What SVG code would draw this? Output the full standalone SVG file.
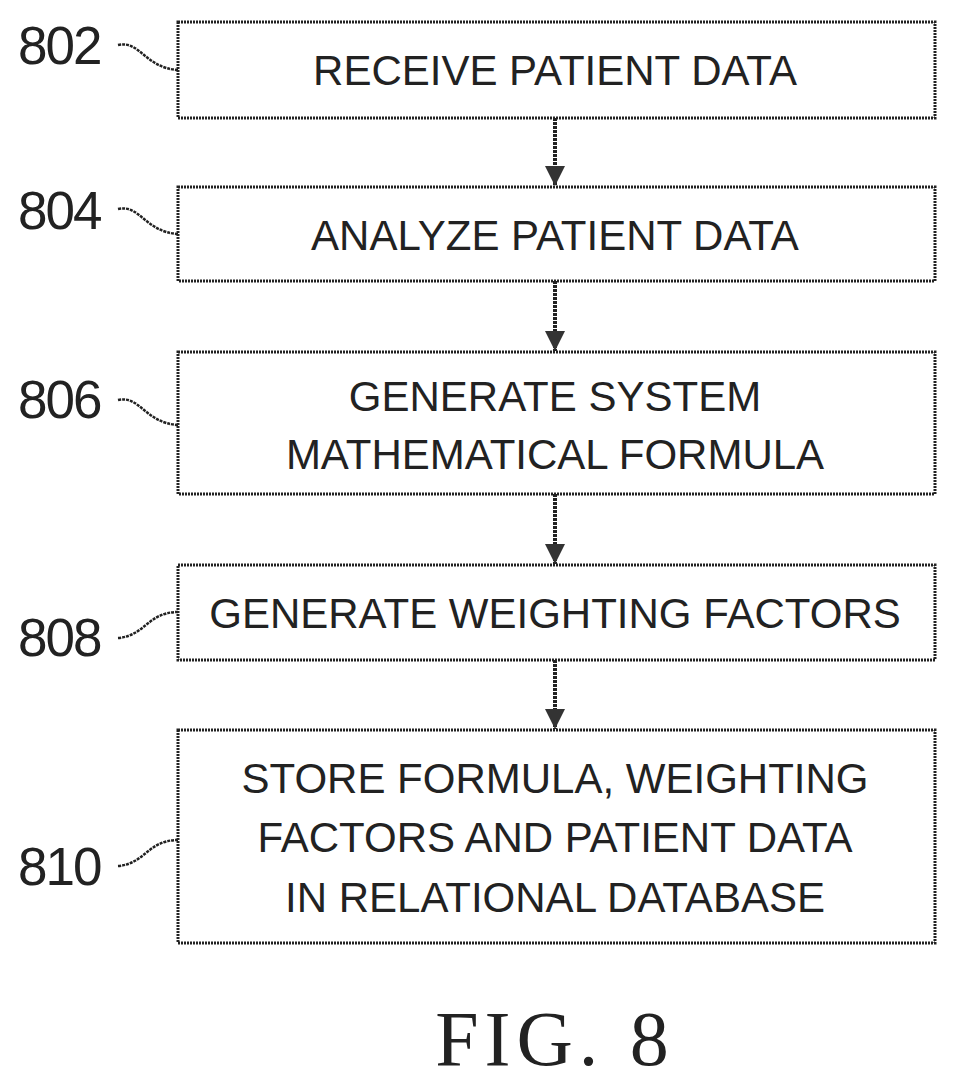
<svg xmlns="http://www.w3.org/2000/svg" width="956" height="1083" viewBox="0 0 956 1083">
<defs>
<style>
.box{fill:#fff;stroke:#222;stroke-width:3;stroke-dasharray:2 1}
.t{font-family:"Liberation Sans",Arial,sans-serif;font-size:42px;fill:#222;text-anchor:middle}
.r{font-family:"Liberation Sans",Arial,sans-serif;font-size:53px;fill:#222;letter-spacing:-2px}
.ld{fill:none;stroke:#222;stroke-width:2.5;stroke-dasharray:3 1}
.c{stroke:#222;stroke-width:4;stroke-dasharray:3 1}
</style>
<marker id="a" markerWidth="22" markerHeight="22" refX="20" refY="11" orient="auto" markerUnits="userSpaceOnUse" viewBox="0 0 22 22"><path d="M0,1 L20,11 L0,21 z" fill="#333"/></marker>
</defs>
<rect width="956" height="1083" fill="#fff"/>
<g id="connectors">
<line class="c" x1="555" y1="118" x2="555" y2="186" marker-end="url(#a)"/>
<line class="c" x1="555" y1="281" x2="555" y2="351" marker-end="url(#a)"/>
<line class="c" x1="555" y1="494" x2="555" y2="564" marker-end="url(#a)"/>
<line class="c" x1="555" y1="660" x2="555" y2="729" marker-end="url(#a)"/>
</g>
<g id="n802"><rect class="box" x="178" y="22" width="757" height="96"/><text class="t" x="555" y="85">RECEIVE PATIENT DATA</text>
<text class="r" x="18" y="64">802</text><path class="ld" d="M118,45 C140,40 145,68 178,70"/></g>
<g id="n804"><rect class="box" x="178" y="187" width="757" height="94"/><text class="t" x="555" y="250">ANALYZE PATIENT DATA</text>
<text class="r" x="18" y="229">804</text><path class="ld" d="M118,209 C140,204 145,232 178,234"/></g>
<g id="n806"><rect class="box" x="178" y="352" width="757" height="142"/><text class="t" x="555" y="411">GENERATE SYSTEM</text><text class="t" x="555" y="469">MATHEMATICAL FORMULA</text>
<text class="r" x="18" y="418">806</text><path class="ld" d="M118,400 C140,395 145,423 178,425"/></g>
<g id="n808"><rect class="box" x="178" y="565" width="757" height="95"/><text class="t" x="555" y="628">GENERATE WEIGHTING FACTORS</text>
<text class="r" x="18" y="656">808</text><path class="ld" d="M118,638 C145,636 148,612 178,612"/></g>
<g id="n810"><rect class="box" x="178" y="730" width="757" height="213"/><text class="t" x="555" y="793">STORE FORMULA, WEIGHTING</text><text class="t" x="555" y="852">FACTORS AND PATIENT DATA</text><text class="t" x="555" y="912">IN RELATIONAL DATABASE</text>
<text class="r" x="18" y="885">810</text><path class="ld" d="M118,866 C145,864 148,840 178,840"/></g>
<text x="555" y="1065" style="font-family:'Liberation Serif',serif;font-size:78px;fill:#222;text-anchor:middle;letter-spacing:6px">FIG. 8</text>
</svg>
